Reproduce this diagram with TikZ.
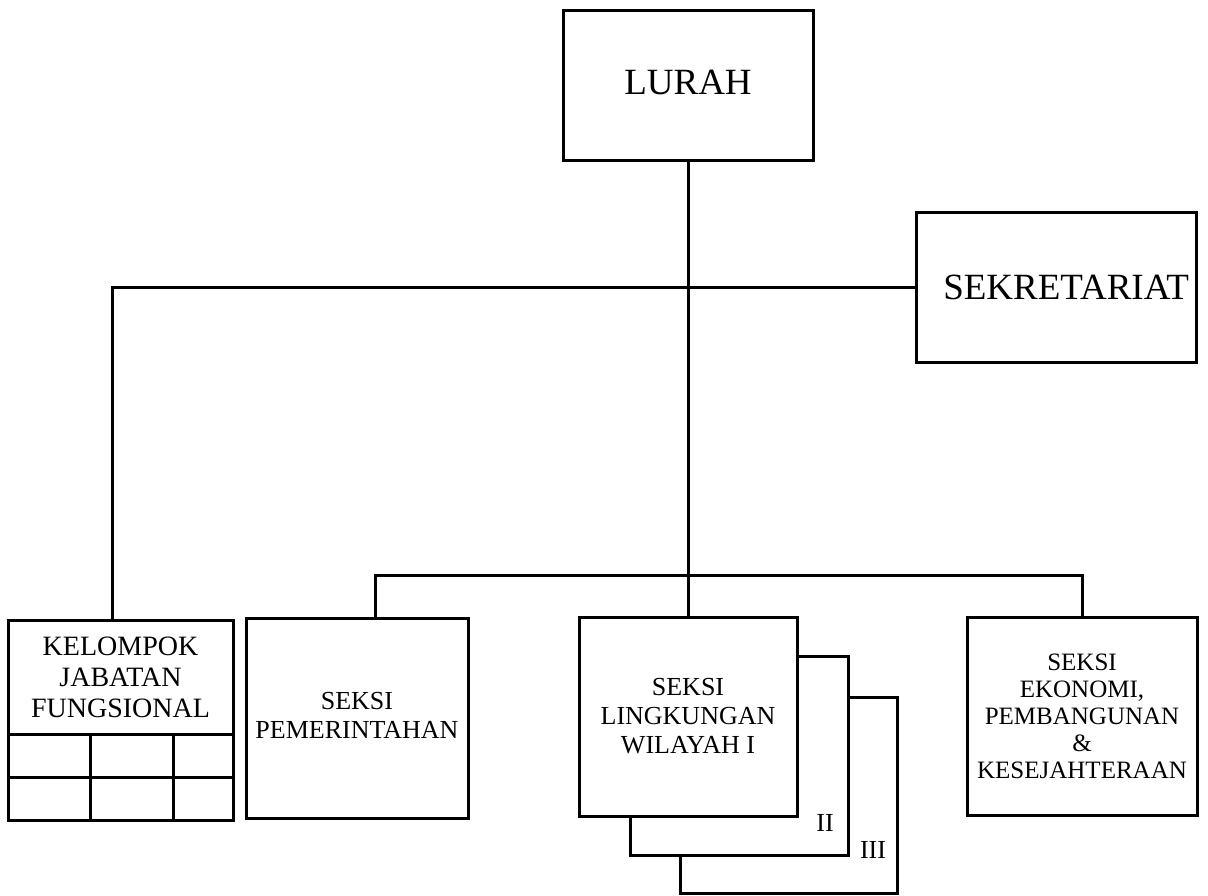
\documentclass[tikz,border=0pt]{standalone}
\usepackage{fontspec}
\setmainfont{Liberation Serif}
\usepackage{tikz}
\usetikzlibrary{positioning}

\begin{document}
\begin{tikzpicture}[x=1pt,y=-1pt,
  unit/.style={draw=black,line width=3pt,fill=white,align=center,inner sep=0pt,outer sep=0pt},
  bigtxt/.style={font=\fontsize{37}{40}\selectfont},
  smalltxt/.style={font=\fontsize{26}{29}\selectfont},
  link/.style={line width=3pt}]
\useasboundingbox (0,0) rectangle (1208,895);
\node[unit,bigtxt,minimum width=250pt,minimum height=150pt] (lurah) at (688,85) {\raisebox{5pt}{LURAH}};
\node[unit,bigtxt,minimum width=280pt,minimum height=150pt,text width=266pt,align=right] (sekr) at (1056,287) {SEKRETARIAT};
\node[unit,font=\fontsize{28}{31}\selectfont,minimum width=225pt,minimum height=114pt] (kjf) at (120.5,677) {KELOMPOK\\JABATAN\\FUNGSIONAL};
\node[unit,smalltxt,minimum width=222pt,minimum height=200pt] (pem) at (357,718) {\raisebox{6pt}{\begin{tabular}{@{}c@{}}SEKSI\\PEMERINTAHAN\end{tabular}}};
\node[unit,minimum width=217pt,minimum height=196pt] (slw3) at (788.5,795) {};
\node[unit,minimum width=218pt,minimum height=199pt] (slw2) at (739,755.5) {};
\node[unit,smalltxt,minimum width=218pt,minimum height=199pt] (slw1) at (688,716.5) {SEKSI\\LINGKUNGAN\\WILAYAH I};
\node[unit,font=\fontsize{25}{27}\selectfont,minimum width=230pt,minimum height=198pt] (seke) at (1082,716) {SEKSI\\EKONOMI,\\PEMBANGUNAN\\\&\\KESEJAHTERAAN};
\node[font=\fontsize{26}{28}\selectfont] (lbl2) at ([xshift=-23pt,yshift=32pt]slw2.south east) {II};
\node[font=\fontsize{26}{28}\selectfont] (lbl3) at ([xshift=-24pt,yshift=-55pt]slw3.east) {III};
% cells under the functional group
\draw[link] (kjf.south west) rectangle ([yshift=-86pt]kjf.south east);
\draw[link] ([yshift=-43pt]kjf.south west) -- ([yshift=-43pt]kjf.south east);
\draw[link] ([xshift=82pt]kjf.south west) -- ([xshift=82pt,yshift=-86pt]kjf.south west);
\draw[link] ([xshift=165pt]kjf.south west) -- ([xshift=165pt,yshift=-86pt]kjf.south west);
% connectors
\coordinate (bus) at (688,575);
\draw[link] (lurah.south) -- (slw1.north);
\draw[link] (sekr.west) -| ([xshift=-8.5pt]kjf.north);
\draw[link] ([xshift=18pt]pem.north) |- (bus) -| (seke.north);
\end{tikzpicture}
\end{document}
